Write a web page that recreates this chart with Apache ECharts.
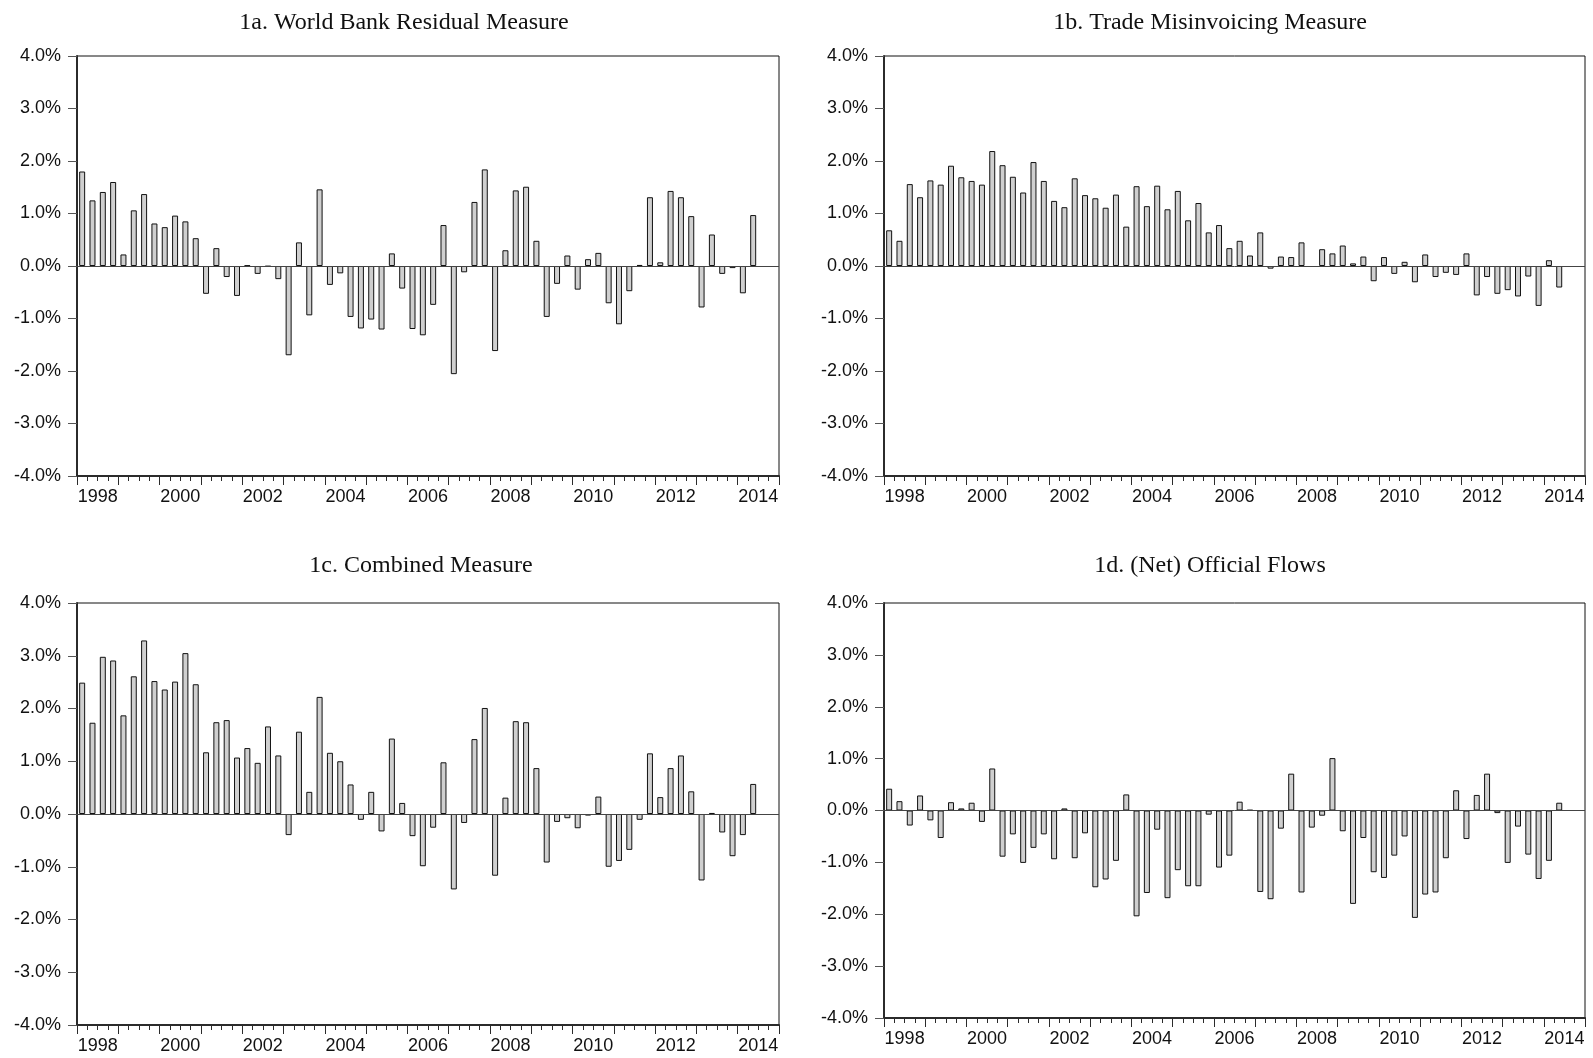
<!DOCTYPE html>
<html lang="en">
  <head>
    <meta charset="UTF-8" />
    <title>Capital flight measures</title>
    <script src="https://cdnjs.cloudflare.com/ajax/libs/echarts/6.0.0/echarts.min.js"></script>
    <style>
      html,
      body {
        margin: 0;
        padding: 0;
        background: #ffffff;
      }
      #chart {
        width: 1593px;
        height: 1058px;
      }
    </style>
  </head>
  <body>
    <div id="chart"></div>
    <script type="text/javascript">
      // axis labels
      const years = ["1998", "1999", "2000", "2001", "2002", "2003", "2004", "2005", "2006",
        "2007", "2008", "2009", "2010", "2011", "2012", "2013", "2014"];
      const quarters = years.flatMap((y) => [y + "Q1", y + "Q2", y + "Q3", y + "Q4"]);
      const yTicks = [-4, -3, -2, -1, 0, 1, 2, 3, 4];

      // quarterly values, % (1998Q1 - 2014Q2)
      const worldBank = [1.80, 1.25, 1.41, 1.60, 0.22, 1.06, 1.37, 0.81, 0.74, 0.96, 0.85, 0.53,
        -0.53, 0.34, -0.21, -0.57, 0.01, -0.15, -0.01, -0.25, -1.70, 0.45, -0.94, 1.46,
        -0.36, -0.14, -0.97, -1.19, -1.02, -1.21, 0.24, -0.43, -1.20, -1.32, -0.74, 0.78,
        -2.06, -0.12, 1.22, 1.84, -1.62, 0.30, 1.44, 1.51, 0.48, -0.97, -0.34, 0.20,
        -0.45, 0.13, 0.25, -0.71, -1.11, -0.48, 0.02, 1.31, 0.07, 1.43, 1.31, 0.95,
        -0.79, 0.60, -0.15, -0.04, -0.52, 0.97];
      const tradeMis = [0.68, 0.48, 1.56, 1.31, 1.63, 1.55, 1.91, 1.69, 1.62, 1.55, 2.19, 1.92,
        1.70, 1.40, 1.98, 1.62, 1.24, 1.12, 1.67, 1.35, 1.29, 1.11, 1.36, 0.75,
        1.52, 1.14, 1.53, 1.08, 1.43, 0.87, 1.20, 0.64, 0.78, 0.34, 0.48, 0.20,
        0.64, -0.05, 0.18, 0.17, 0.45, null, 0.32, 0.24, 0.39, 0.05, 0.18, -0.29,
        0.17, -0.15, 0.08, -0.31, 0.22, -0.21, -0.13, -0.17, 0.24, -0.56, -0.21, -0.53,
        -0.46, -0.58, -0.20, -0.76, 0.11, -0.41];
      const combined = [2.49, 1.73, 2.98, 2.91, 1.87, 2.61, 3.29, 2.52, 2.36, 2.51, 3.05, 2.46,
        1.17, 1.74, 1.78, 1.07, 1.25, 0.97, 1.66, 1.11, -0.40, 1.56, 0.42, 2.22,
        1.16, 1.00, 0.56, -0.11, 0.42, -0.33, 1.43, 0.21, -0.42, -0.99, -0.26, 0.98,
        -1.43, -0.17, 1.42, 2.01, -1.17, 0.31, 1.76, 1.74, 0.87, -0.92, -0.15, -0.08,
        -0.27, -0.03, 0.33, -1.00, -0.89, -0.68, -0.11, 1.15, 0.32, 0.87, 1.11, 0.43,
        -1.26, 0.02, -0.35, -0.80, -0.40, 0.57];
      const official = [0.42, 0.18, -0.29, 0.29, -0.19, -0.53, 0.16, 0.04, 0.15, -0.22, 0.81, -0.89,
        -0.46, -1.01, -0.72, -0.46, -0.94, 0.04, -0.92, -0.44, -1.48, -1.33, -0.97, 0.31,
        -2.04, -1.59, -0.37, -1.69, -1.15, -1.46, -1.46, -0.08, -1.10, -0.87, 0.17, 0.01,
        -1.57, -1.71, -0.35, 0.71, -1.58, -0.33, -0.10, 1.01, -0.40, -1.80, -0.53, -1.19,
        -1.30, -0.87, -0.50, -2.07, -1.62, -1.58, -0.92, 0.39, -0.55, 0.30, 0.71, -0.05,
        -1.01, -0.31, -0.85, -1.32, -0.97, 0.15];

      const panelTitles = [
        "1a. World Bank Residual Measure",
        "1b. Trade Misinvoicing Measure",
        "1c. Combined Measure",
        "1d. (Net) Official Flows",
      ];
      const panelData = [worldBank, tradeMis, combined, official];

      // panel layout (px)
      const grids = [
        { left: 77, top: 56, width: 702, height: 420 },
        { left: 884, top: 56, width: 701, height: 420 },
        { left: 77, top: 603, width: 702, height: 422 },
        { left: 884, top: 603, width: 701, height: 415 },
      ];
      const titlePos = [
        { x: 399, y: 6 },
        { x: 1205, y: 6 },
        { x: 416, y: 549 },
        { x: 1205, y: 549 },
      ];

      const axisColor = "#2b2b2b";
      const labelFont = "'Liberation Sans', Arial, sans-serif";

      const dom = document.getElementById("chart");
      const myChart = echarts.init(dom, null, { renderer: "canvas" });

      const title = [],
        grid = [],
        xAxis = [],
        yAxis = [],
        series = [];

      panelTitles.forEach((name, i) => {
        title.push({
          text: name,
          left: titlePos[i].x,
          top: titlePos[i].y,
          textAlign: "center",
          textStyle: {
            fontFamily: "'Liberation Serif', 'Times New Roman', serif",
            fontWeight: "normal",
            fontSize: 24,
            color: "#111",
          },
        });
        grid.push({
          ...grids[i],
          show: true,
          borderColor: "#111",
          borderWidth: 1,
          backgroundColor: "transparent",
        });
        // quarterly axis: bars + short ticks
        xAxis.push({
          type: "category",
          gridIndex: i,
          data: quarters,
          boundaryGap: true,
          position: "bottom",
          axisLine: { onZero: false, lineStyle: { color: axisColor, width: 2 } },
          axisTick: { show: true, interval: 0, length: 5, lineStyle: { color: axisColor } },
          axisLabel: { show: false },
          splitLine: { show: false },
        });
        // yearly axis: longer ticks, labels every two years
        xAxis.push({
          type: "category",
          gridIndex: i,
          data: years,
          boundaryGap: true,
          position: "bottom",
          axisLine: { show: false, onZero: false },
          axisTick: { show: true, interval: 0, length: 9, lineStyle: { color: axisColor } },
          axisLabel: {
            interval: 1,
            margin: 12,
            fontSize: 18,
            fontFamily: labelFont,
            color: "#111",
          },
          splitLine: { show: false },
        });
        yAxis.push({
          type: "value",
          gridIndex: i,
          min: yTicks[0],
          max: yTicks[yTicks.length - 1],
          interval: 1,
          axisLine: { show: true, onZero: false, lineStyle: { color: axisColor, width: 2 } },
          axisTick: { show: true, length: 9, lineStyle: { color: "#555" } },
          axisLabel: {
            margin: 16,
            fontSize: 18,
            fontFamily: labelFont,
            color: "#111",
            formatter: (v) => v.toFixed(1) + "%",
          },
          splitLine: { show: false },
        });
        series.push({
          type: "bar",
          name: name,
          xAxisIndex: i * 2,
          yAxisIndex: i,
          data: panelData[i],
          barWidth: "58%",
          itemStyle: {
            color: "#cfcfcf",
            borderColor: "#111",
            borderWidth: 1,
          },
          // zero line
          markLine: {
            silent: true,
            symbol: "none",
            label: { show: false },
            lineStyle: { color: "#444", width: 1, type: "solid" },
            data: [{ yAxis: 0 }],
          },
          animation: false,
        });
      });

      const options = {
        animation: false,
        backgroundColor: "#ffffff",
        title,
        grid,
        xAxis,
        yAxis,
        series,
      };
      myChart.setOption(options);
    </script>
  </body>
</html>
